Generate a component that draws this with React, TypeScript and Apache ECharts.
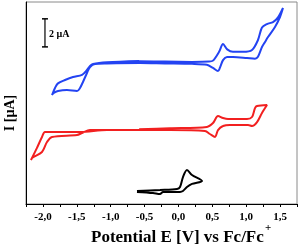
import React, { useEffect, useRef } from "react";
import * as echarts from "echarts";

// Cyclic voltammograms: [potential V vs Fc/Fc+, current µA (with vertical offset)]
const blueCurve: [number, number][] = [
  [-0.58, 10.17], [-0.2, 10.15], [0.2, 10.13], [0.45, 10.15], [0.51, 10.22],
  [0.6, 10.85], [0.658, 11.4], [0.72, 11.02], [0.805, 10.85], [0.953, 10.85],
  [1.086, 10.98], [1.174, 11.69], [1.233, 12.58], [1.307, 12.83], [1.396, 12.97],
  [1.47, 13.3], [1.543, 13.97],
  [1.499, 13.33], [1.425, 12.62], [1.322, 11.9], [1.278, 11.55], [1.233, 11.19],
  [1.174, 10.5], [1.13, 10.36], [1.012, 10.41], [0.805, 10.48], [0.717, 10.48],
  [0.658, 10.26], [0.613, 9.72], [0.584, 9.48], [0.51, 9.7], [0.42, 9.92],
  [0.2, 9.99], [-0.2, 10.02], [-0.567, 10.05], [-1.054, 10.02], [-1.232, 9.98],
  [-1.305, 9.76], [-1.35, 9.34], [-1.409, 8.7], [-1.453, 8.27], [-1.497, 8.05],
  [-1.645, 8.12], [-1.778, 8.05], [-1.84, 7.92], [-1.866, 7.77],
  [-1.822, 8.27], [-1.778, 8.6], [-1.674, 8.84], [-1.556, 9.05], [-1.423, 9.2],
  [-1.35, 9.55], [-1.305, 9.84], [-1.261, 9.98], [-1.054, 10.1], [-0.58, 10.19],
];

const redCurve: [number, number][] = [
  [-0.58, 5.33], [-0.125, 5.4], [0.42, 5.49], [0.51, 5.77], [0.584, 6.27],
  [0.658, 6.13], [0.732, 6.06], [1.012, 6.06], [1.086, 6.2], [1.13, 6.84],
  [1.16, 6.98], [1.307, 7.06],
  [1.233, 6.49], [1.16, 5.84], [1.086, 5.56], [1.027, 5.63], [0.761, 5.63],
  [0.658, 5.56], [0.584, 5.27], [0.54, 4.78], [0.466, 4.99], [0.392, 5.2],
  [-0.125, 5.27], [-0.715, 5.27], [-1.054, 5.27], [-1.453, 5.13], [-1.85, 5.13],
  [-1.97, 5.13], [-2.014, 4.78], [-2.088, 4.0], [-2.176, 3.14],
  [-2.161, 3.28], [-2.014, 3.71], [-1.94, 4.42], [-1.866, 4.78], [-1.497, 4.92],
  [-1.423, 5.06], [-1.305, 5.27], [-0.58, 5.3],
];

const blackCurve: [number, number][] = [
  [-0.612, 0.93], [-0.272, 1.0], [-0.021, 1.07], [0.023, 1.21], [0.067, 1.92],
  [0.126, 2.42], [0.2, 2.07], [0.348, 1.64],
  [0.2, 1.43], [0.126, 1.21], [0.067, 0.93], [0.023, 0.86], [-0.228, 0.86],
  [-0.272, 0.71], [-0.375, 0.78], [-0.612, 0.86],
];

const scaleBar: [number, number][] = [[-1.97, 11.2], [-1.97, 13.2]];
const scaleBarLabel = "2 µA";
const xTickLabels = [-2.0, -1.5, -1.0, -0.5, 0.0, 0.5, 1.0, 1.5];
const xAxisTitle = "Potential E [V] vs Fc/Fc";
const yAxisTitle = "I [µA]";

const SERIF = "'Liberation Serif', 'DejaVu Serif', serif";

export default function App() {
  const ref = useRef<HTMLDivElement>(null);
  useEffect(() => {
    const chart = echarts.init(ref.current!, null, { renderer: "svg" });
    const lineSeries = (data: [number, number][], color: string) => ({
      type: "line",
      data,
      showSymbol: false,
      symbol: "none",
      smooth: 0.3,
      lineStyle: { color, width: 2 },
      z: 3,
    });
    chart.setOption({
      animation: false,
      grid: {
        left: 26,
        right: 3,
        top: 2,
        bottom: 41,
        show: true,
        borderColor: "#8a8a8a",
        borderWidth: 1,
        backgroundColor: "transparent",
      },
      xAxis: {
        type: "value",
        min: -2.25,
        max: 1.75,
        interval: 0.25,
        axisLine: { show: true, onZero: false, lineStyle: { color: "#000", width: 1 } },
        axisTick: { show: true, inside: false, length: 3, lineStyle: { color: "#000" } },
        axisLabel: {
          margin: 6,
          color: "#000",
          fontFamily: SERIF,
          fontWeight: "bold",
          fontSize: 11,
          showMinLabel: true,
          showMaxLabel: true,
          formatter: (v: number) =>
            xTickLabels.some((t) => Math.abs(t - v) < 1e-6) ? v.toFixed(1).replace(".", ",") : "",
        },
        splitLine: { show: false },
      },
      yAxis: {
        type: "value",
        min: 0,
        max: 14.4,
        axisLine: { show: true, onZero: false, lineStyle: { color: "#000", width: 1 } },
        axisTick: { show: false },
        axisLabel: { show: false },
        splitLine: { show: false },
      },
      series: [
        lineSeries(blueCurve, "#2343f2"),
        lineSeries(redCurve, "#f22020"),
        lineSeries(blackCurve, "#000000"),
        {
          type: "line",
          data: scaleBar,
          showSymbol: true,
          symbol: "rect",
          symbolSize: [6, 1.5],
          itemStyle: { color: "#000" },
          lineStyle: { color: "#000", width: 1.2 },
          z: 4,
        },
      ],
      graphic: [
        {
          type: "text",
          left: 49,
          top: 28,
          style: {
            text: scaleBarLabel,
            font: `bold 10px ${SERIF}`,
            fill: "#000",
          },
        },
        {
          type: "text",
          x: 9,
          y: 113,
          rotation: Math.PI / 2,
          style: {
            text: yAxisTitle,
            font: `bold 14px ${SERIF}`,
            fill: "#000",
            align: "center",
            verticalAlign: "middle",
          },
        },
        {
          type: "text",
          left: 91,
          top: 228,
          style: {
            text: xAxisTitle,
            font: `bold 17px ${SERIF}`,
            fill: "#000",
          },
        },
        {
          type: "text",
          left: 265,
          top: 221,
          style: {
            text: "+",
            font: `bold 11px ${SERIF}`,
            fill: "#000",
          },
        },
      ],
    });
    return () => chart.dispose();
  }, []);
  return (
    <div
      ref={ref}
      style={{ position: "fixed", left: 0, top: 0, width: 300, height: 245 }}
    />
  );
}
